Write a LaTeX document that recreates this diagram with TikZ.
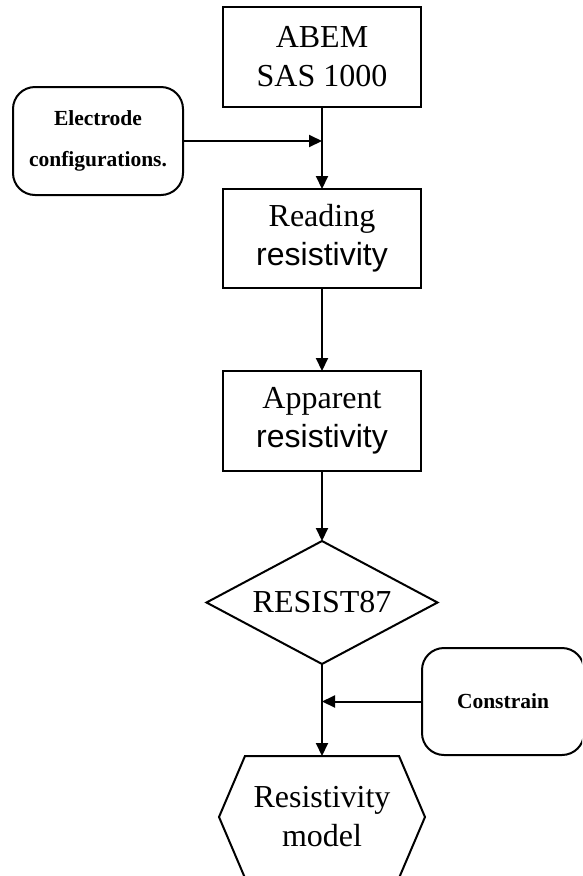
\documentclass[tikz,border=0pt]{standalone}
\usepackage{fontspec}
\setmainfont{Liberation Serif}
\newfontfamily\arialf{Liberation Sans}
\usetikzlibrary{shapes.geometric,arrows.meta}
\begin{document}
\begin{tikzpicture}[x=1pt,y=-1pt,
  every node/.style={inner sep=0pt,outer sep=0pt},
  stepbox/.style={draw,line width=2pt,minimum width=198pt,minimum height=99pt,align=center},
  sidebox/.style={draw,line width=2pt,rounded corners=22pt,align=center,font=\bfseries\fontsize{21.5}{41}\selectfont},
  bigtxt/.style={font=\fontsize{32}{39}\selectfont},
  conn/.style={line width=2pt,-{Triangle[length=13pt,width=12pt]}},
  plain/.style={line width=2pt}]
\useasboundingbox (0,0) rectangle (582,876);
\begin{scope}
\clip (0,0) rectangle (582,876);
\node[stepbox,bigtxt,minimum height=100pt] (abem) at (322,57) {ABEM\\SAS 1000};
\node[stepbox,bigtxt] (read) at (322,238.5) {Reading\\{\arialf resistivity}};
\node[stepbox,bigtxt,minimum height=100pt] (app) at (322,421) {Apparent\\{\arialf resistivity}};
\node[draw,line width=2pt,shape=diamond,aspect=1.88,minimum width=231pt,minimum height=123pt,bigtxt] (res) at (322,602.5) {RESIST87};
\node[sidebox,minimum width=170pt,minimum height=108pt] (elec) at (98,141) {Electrode\\configurations.};
\node[sidebox,minimum width=162pt,minimum height=107pt] (cons) at (503,701.5) {Constrain};
\node[bigtxt,align=center,minimum width=154pt,minimum height=122pt] (hex) at (322,817) {Resistivity\\model};
\draw[plain] (hex.north west) -- (hex.north east) -- ([xshift=26pt]hex.east) -- (hex.south east) -- (hex.south west) -- ([xshift=-26pt]hex.west) -- cycle;
\coordinate (j1) at (abem.south |- elec.east);
\coordinate (j2) at (res.south |- cons.west);
\draw[conn] (abem.south) -- (read.north);
\draw[conn] (elec.east) -- (j1);
\draw[conn] (read.south) -- (app.north);
\draw[conn] (app.south) -- (res.north);
\draw[conn] (res.south) -- (hex.north);
\draw[conn] (cons.west) -- (j2);
\end{scope}
\end{tikzpicture}
\end{document}
